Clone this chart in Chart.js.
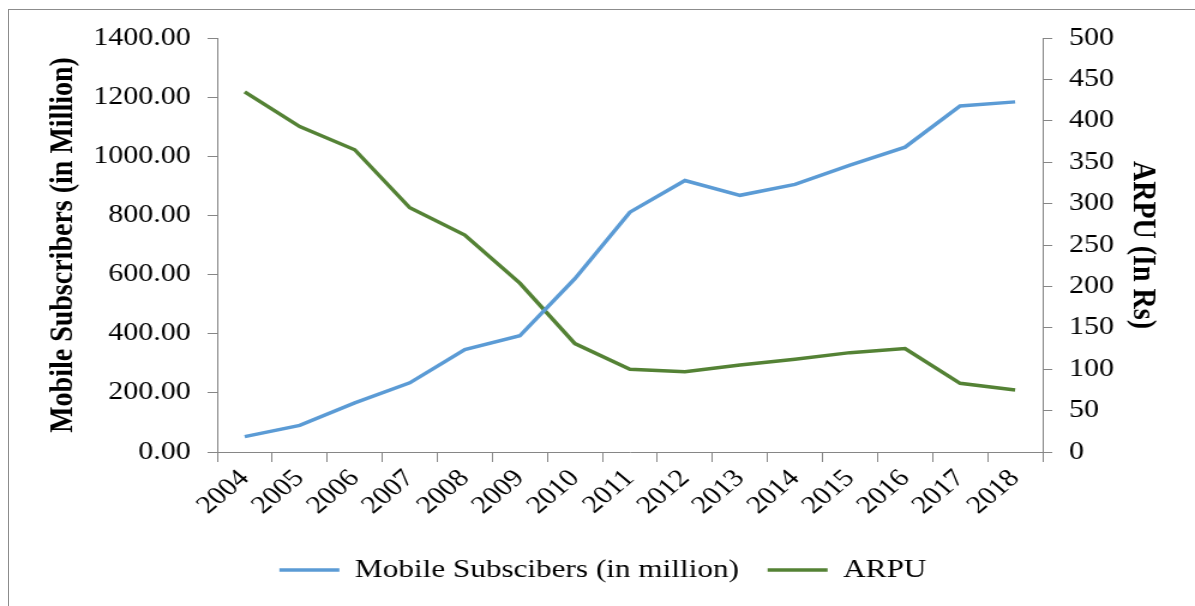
<!DOCTYPE html>
<html lang="en">
<head>
<meta charset="UTF-8">
<title>Mobile Subscribers and ARPU</title>
<script src="https://cdn.jsdelivr.net/npm/chart.js"></script>
<style>
    body { margin: 0; background: #fff; overflow: hidden; }
    #frame { position: absolute; left: 8px; top: 9px; width: 1200px; height: 620px; border-left: 1px solid #8c8c8c; border-top: 1px solid #8c8c8c; }
    #wrap { position: absolute; left: 0; top: 0; width: 1195px; height: 606px; }
    /* the reference is stretched sideways, so the canvas is drawn narrow and widened by css */
    #chart { width: 1195px; height: 606px; display: block; }
</style>
</head>
<body>
<div id="frame"></div>
<div id="wrap">
    <canvas id="chart" width="996" height="606" style="width:1195px;height:606px"></canvas>
</div>
<script>
const years = ['2004', '2005', '2006', '2007', '2008', '2009', '2010', '2011', '2012', '2013', '2014', '2015', '2016', '2017', '2018'];
const subscribers = [52, 90, 166, 234, 346, 393, 586, 811, 918, 868, 905, 970, 1031, 1170, 1184];
const arpu = [435, 393, 365, 295, 262, 204, 131, 100, 97, 105, 112, 120, 125, 83, 75];
const leftTicks = [0, 200, 400, 600, 800, 1000, 1200, 1400];
const rightTicks = [0, 50, 100, 150, 200, 250, 300, 350, 400, 450, 500];

const FONT = "'Liberation Serif', 'Times New Roman', serif";
const AXIS = '#868686';

new Chart(document.getElementById('chart'), {
    type: 'line',
    data: {
        labels: years,
        datasets: [
            {
                label: 'Mobile Subscibers (in million)',
                data: subscribers,
                borderColor: '#5B9BD5',
                backgroundColor: '#5B9BD5',
                borderWidth: 3.5,
                pointRadius: 0,
                tension: 0,
                yAxisID: 'ySubs'
            },
            {
                label: 'ARPU',
                data: arpu,
                borderColor: '#548235',
                backgroundColor: '#548235',
                borderWidth: 3.5,
                pointRadius: 0,
                tension: 0,
                yAxisID: 'yArpu'
            }
        ]
    },
    options: {
        responsive: false,
        animation: false,
        devicePixelRatio: 1,
        layout: { padding: { left: 32, right: 23, top: 38, bottom: 13 } },
        plugins: {
            tooltip: { enabled: false },
            legend: {
                position: 'bottom',
                labels: {
                    usePointStyle: true,
                    pointStyle: 'line',
                    pointStyleWidth: 50,
                    padding: 24,
                    color: '#000',
                    font: { family: FONT, size: 26 }
                }
            }
        },
        scales: {
            x: {
                offset: true,
                afterFit: s => { s.height = 81; },
                grid: { display: true, offset: true, drawOnChartArea: false, drawTicks: true, tickLength: 10, color: AXIS },
                border: { display: true, color: AXIS, width: 1 },
                ticks: {
                    color: '#000',
                    font: { family: FONT, size: 25 },
                    minRotation: 45,
                    maxRotation: 45,
                    autoSkip: false,
                    padding: 2
                }
            },
            ySubs: {
                type: 'linear',
                position: 'left',
                min: 0,
                max: 1400,
                afterBuildTicks: s => { s.ticks = leftTicks.map(v => ({ value: v })); },
                afterFit: s => { s.width = 149; },
                grid: { display: true, drawOnChartArea: false, drawTicks: true, tickLength: 8, color: AXIS },
                border: { display: true, color: AXIS, width: 1 },
                ticks: {
                    color: '#000',
                    font: { family: FONT, size: 25 },
                    padding: 14,
                    callback: v => Number(v).toFixed(2)
                },
                title: {
                    display: true,
                    text: 'Mobile Subscribers (in Million)',
                    color: '#000',
                    font: { family: FONT, size: 28, weight: 'bold' },
                    padding: { top: 4, bottom: 0 }
                }
            },
            yArpu: {
                type: 'linear',
                position: 'right',
                min: 0,
                max: 500,
                afterBuildTicks: s => { s.ticks = rightTicks.map(v => ({ value: v })); },
                afterFit: s => { s.width = 104; },
                grid: { display: true, drawOnChartArea: false, drawTicks: true, tickLength: 8, color: AXIS },
                border: { display: true, color: AXIS, width: 1 },
                ticks: {
                    color: '#000',
                    font: { family: FONT, size: 25 },
                    padding: 14
                },
                title: {
                    display: true,
                    text: 'ARPU (In Rs)',
                    color: '#000',
                    font: { family: FONT, size: 28, weight: 'bold' },
                    padding: { top: 4, bottom: 0 }
                }
            }
        }
    }
});
</script>
</body>
</html>
